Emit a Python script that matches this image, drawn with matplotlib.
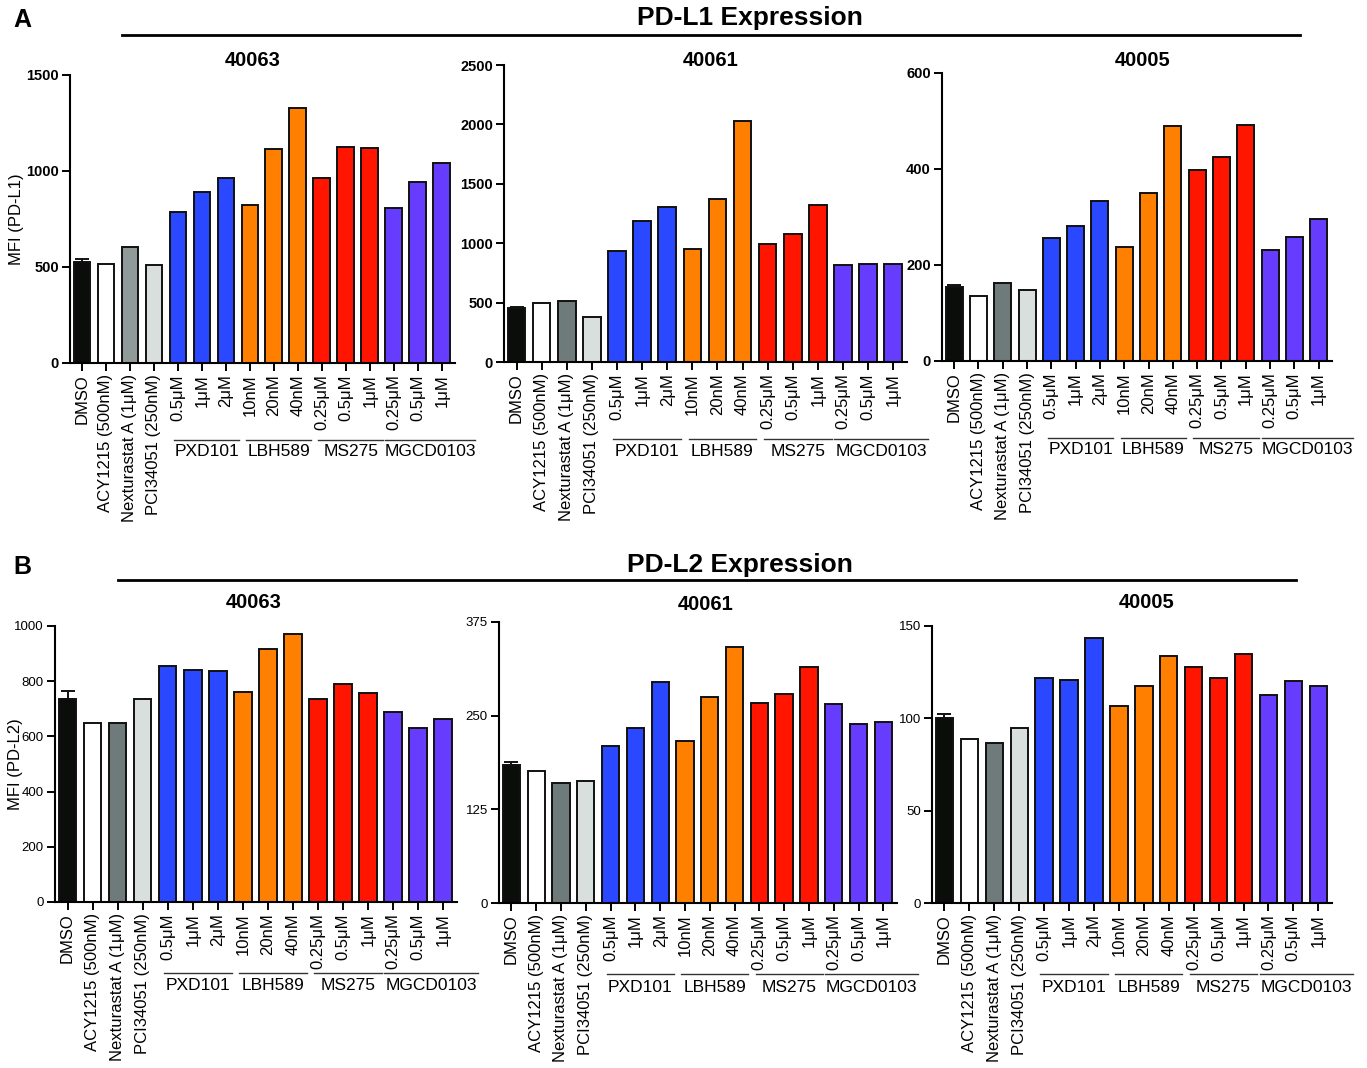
import numpy as np
import matplotlib.pyplot as plt

plt.rcParams['font.family'] = ['Liberation Sans', 'DejaVu Sans']

labels = ['DMSO', 'ACY1215 (500nM)', 'Nexturastat A (1μM)', 'PCI34051 (250nM)',
          '0.5μM', '1μM', '2μM', '10nM', '20nM', '40nM',
          '0.25μM', '0.5μM', '1μM', '0.25μM', '0.5μM', '1μM']
groups = ['PXD101', 'LBH589', 'MS275', 'MGCD0103']
group_start = [4, 7, 10, 13]

pdl1_40063 = [528, 516, 602, 508, 785, 893, 966, 825, 1113, 1327, 966, 1127, 1120, 809, 944, 1043]
pdl1_40061 = [455, 500, 517, 379, 938, 1183, 1306, 947, 1371, 2031, 992, 1081, 1320, 815, 823, 823]
pdl1_40005 = [155, 136, 163, 147, 256, 281, 333, 237, 349, 490, 397, 424, 492, 231, 258, 295]
pdl2_40063 = [735, 648, 648, 735, 855, 842, 838, 760, 918, 970, 737, 791, 756, 688, 630, 662]
pdl2_40061 = [184, 176, 160, 163, 209, 234, 295, 216, 275, 342, 267, 279, 315, 265, 239, 242]
pdl2_40005 = [100, 88.7, 86.9, 95, 121.9, 120.8, 143.7, 106.7, 117.7, 133.9, 127.8, 121.9, 135, 112.9, 120, 117.7]
dmso_err = [14, 5, 3, 30, 4, 2.4]

colors = ['#0b0d0b', '#ffffff', '#6f7b7b', '#d9dfdd',
          '#2a48ff', '#2a48ff', '#2a48ff', '#ff8000', '#ff8000', '#ff8000',
          '#ff1500', '#ff1500', '#ff1500', '#663dff', '#663dff', '#663dff']

W, H = 1367, 1068
fig = plt.figure(figsize=(W / 100, H / 100), dpi=100)

# data, title, yticks, (left, top, right, bottom) px, title centre px, ylabel + x px, bold ticks
panels = [
    (pdl1_40063, '40063', [0, 500, 1000, 1500], (70, 75, 455, 363), (253, 61), ('MFI (PD-L1)', 24), True),
    (pdl1_40061, '40061', [0, 500, 1000, 1500, 2000, 2500], (504, 65, 907, 362), (711, 60), None, True),
    (pdl1_40005, '40005', [0, 200, 400, 600], (942, 73, 1332, 361), (1143, 60), None, True),
    (pdl2_40063, '40063', [0, 200, 400, 600, 800, 1000], (55, 626, 457, 902), (254, 603), ('MFI (PD-L2)', 23), False),
    (pdl2_40061, '40061', [0, 125, 250, 375], (499, 622, 897, 903), (706, 605), None, False),
    (pdl2_40005, '40005', [0, 50, 100, 150], (932, 626, 1332, 903), (1147, 602), None, False),
]

x = np.arange(len(labels))
for k, (vals, name, yt, box, tpos, ylab, bold) in enumerate(panels):
    l, t, r, b = box
    ax = fig.add_axes([l / W, 1 - b / H, (r - l) / W, (b - t) / H])
    cols = list(colors)
    if k == 0:
        cols[2] = '#8f9a99'
    ax.bar(x, vals, width=0.7, color=cols, edgecolor='#111111', linewidth=1.4, zorder=2)
    ax.errorbar(x[0], vals[0], yerr=[[0], [dmso_err[k]]], fmt='none', ecolor='#111111',
                elinewidth=1.4, capsize=5, capthick=1.4, zorder=3)
    ax.set_xlim(-0.5, 15.55)
    ax.set_ylim(0, yt[-1])
    ax.set_yticks(yt)
    ax.set_yticklabels([str(v) for v in yt], fontsize=10.5 if bold else 9.5,
                       fontweight='bold' if bold else 'normal')
    ax.set_xticks(x)
    ax.set_xticklabels(labels, rotation=90, fontsize=12)
    for s in ['top', 'right']:
        ax.spines[s].set_visible(False)
    for s in ['left', 'bottom']:
        ax.spines[s].set_linewidth(1.5)
    ax.tick_params(direction='out', length=6, width=1.4, pad=2)
    fig.text(tpos[0] / W, 1 - tpos[1] / H, name, fontsize=14.5, fontweight='bold',
             ha='center', va='center')
    if ylab:
        ax.set_ylabel(ylab[0], fontsize=12)
        ax.yaxis.set_label_coords((ylab[1] - l) / (r - l), 0.5)

    # treatment group lines and names under the concentration labels
    hpx = b - t
    line_y = -(77 if bold else 71) / hpx
    text_y = -(89 if bold else 84) / hpx
    trans = ax.get_xaxis_transform()
    for g, s0 in zip(groups, group_start):
        x1 = s0 + 2.55 if g != 'MGCD0103' else 16.4
        x0 = s0 - 0.15 if g != 'MGCD0103' else s0 - 0.35
        ax.plot([x0, x1], [line_y, line_y], color='#333333', lw=1.0,
                transform=trans, clip_on=False)
        ax.text((x0 + x1) / 2, text_y, g, transform=trans, ha='center', va='center',
                fontsize=12.5)

# section headers
fig.text(22 / W, 1 - 20 / H, 'A', fontsize=18, fontweight='bold', ha='center', va='center')
fig.text(750 / W, 1 - 18 / H, 'PD-L1 Expression', fontsize=19, fontweight='bold',
         ha='center', va='center')
fig.add_artist(plt.Line2D([122 / W, 1300 / W], [1 - 35 / H, 1 - 35 / H], color='black', lw=2))

fig.text(22 / W, 1 - 567 / H, 'B', fontsize=18, fontweight='bold', ha='center', va='center')
fig.text(740 / W, 1 - 565 / H, 'PD-L2 Expression', fontsize=19, fontweight='bold',
         ha='center', va='center')
fig.add_artist(plt.Line2D([118 / W, 1296 / W], [1 - 580 / H, 1 - 580 / H], color='black', lw=2))

fig.savefig('out.png', dpi=100)
